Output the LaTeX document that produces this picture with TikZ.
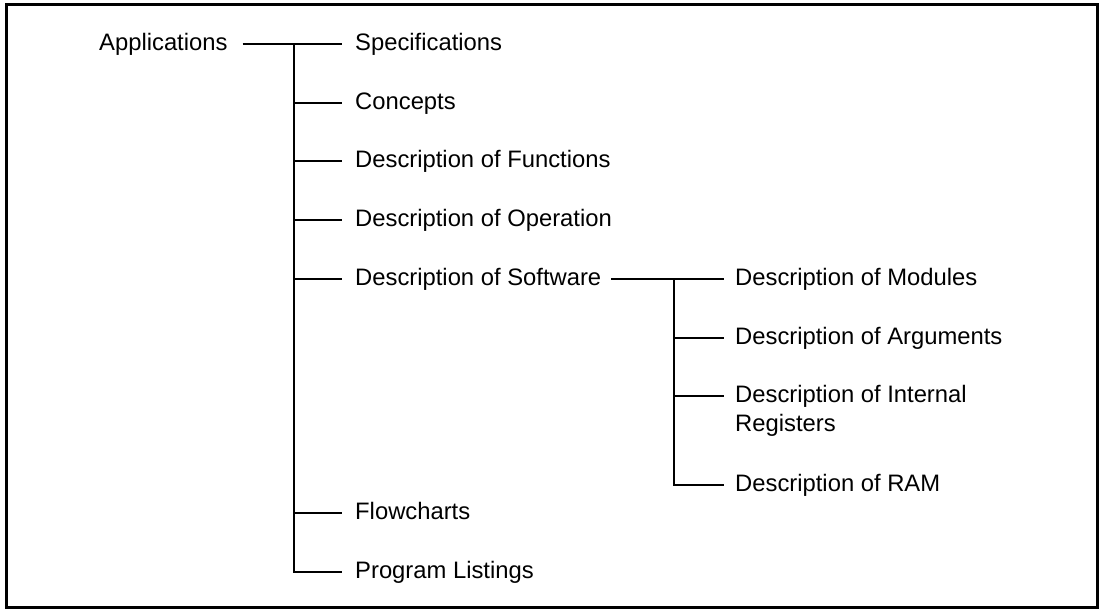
\documentclass[tikz,border=0pt]{standalone}
\usepackage{fontspec}
\setmainfont{Liberation Sans}
\begin{document}
\begin{tikzpicture}[x=1pt,y=-1pt,
  lbl/.style={anchor=base west, inner sep=0pt, font=\fontsize{23.8}{29}\selectfont},
  wire/.style={line width=1.5pt},
  frame/.style={line width=3pt}]
\useasboundingbox (0,0) rectangle (1102,611);
\draw[frame] (6,4) rectangle (1097,607);

% root and first level
\node[lbl] (app)  at (99,50)   {Applications};
\node[lbl] (spec) at (355,50)  {Specifications};
\node[lbl] (conc) at (355,109) {Concepts};
\node[lbl] (func) at (355,167) {Description of Functions};
\node[lbl] (oper) at (355,226) {Description of Operation};
\node[lbl] (soft) at (355,285) {Description of Software};
\node[lbl] (flow) at (355,519) {Flowcharts};
\node[lbl] (prog) at (355,578) {Program Listings};

% second level under the software description
\node[lbl] (mods) at (735,285) {Description of Modules};
\node[lbl] (args) at (735,344) {Description of Arguments};
% two-line label: its base is the baseline of the last line
\node[lbl, align=left] (regs) at (735,431) {Description of Internal\\Registers};
\node[lbl] (ram)  at (735,491) {Description of RAM};

% bus lines
\coordinate (trunk) at (294,44);
\coordinate (subtrunk) at (674,279);

\draw[wire, shorten <=15pt, shorten >=13pt] ([yshift=6pt]app.base east) -- ([yshift=6pt]spec.base west);
\foreach \c in {conc,func,oper,soft,flow,prog}
  \draw[wire, shorten >=13pt] (trunk) |- ([yshift=6pt]\c.base west);

\draw[wire, shorten <=10pt, shorten >=11pt] ([yshift=6pt]soft.base east) -- ([yshift=6pt]mods.base west);
\foreach \c in {args,ram}
  \draw[wire, shorten >=11pt] (subtrunk) |- ([yshift=6pt]\c.base west);
\draw[wire, shorten >=11pt] (subtrunk) |- ([yshift=35pt]regs.base west);
\end{tikzpicture}
\end{document}
